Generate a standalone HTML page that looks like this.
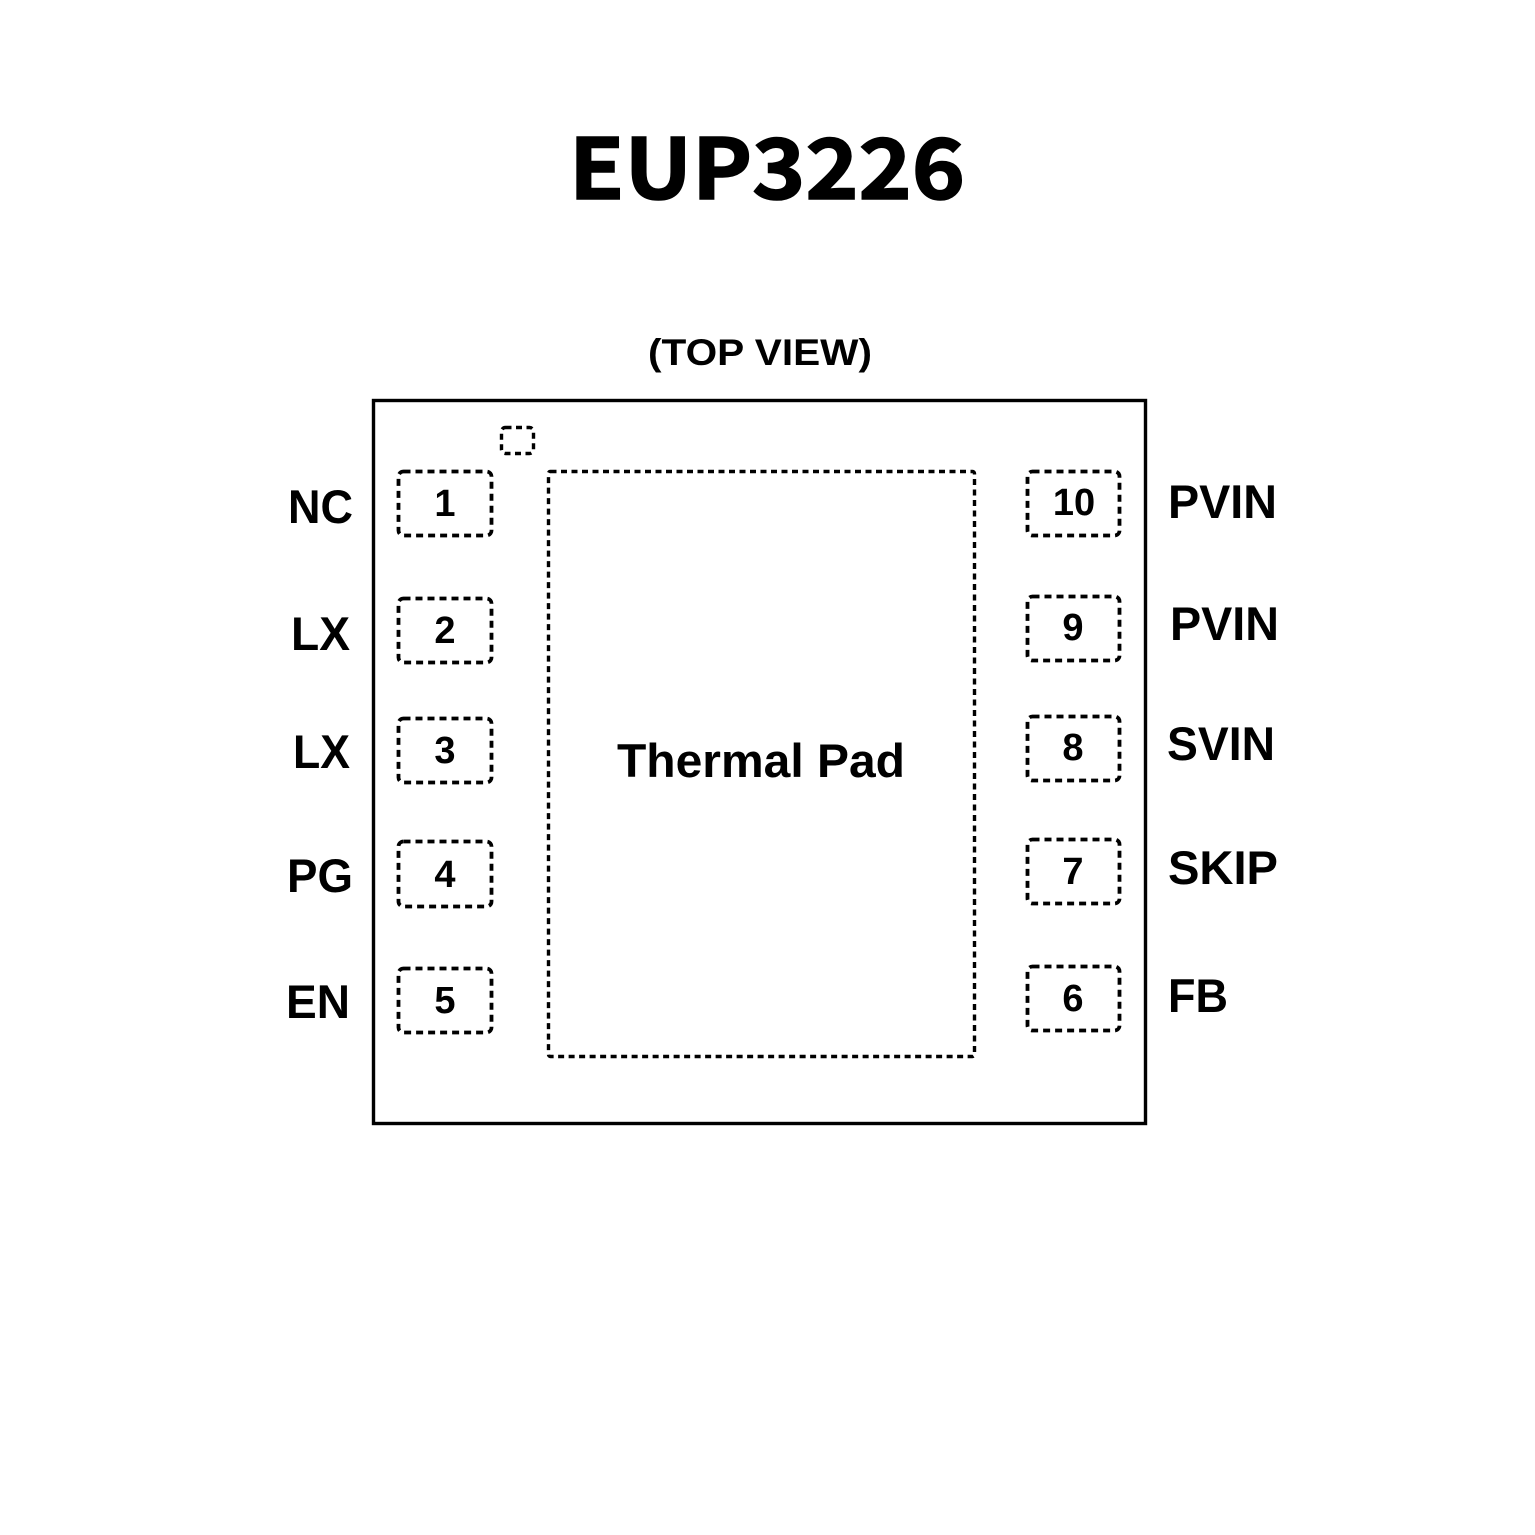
<!DOCTYPE html>
<html>
<head>
<meta charset="utf-8">
<style>
  html, body { margin: 0; padding: 0; background: #ffffff; }
  svg { display: block; }
  .lbl { font-family: "Liberation Sans", Arial, sans-serif; font-weight: bold; fill: #000; }
  .ttl { font-family: "Noto Sans CJK SC", "DejaVu Sans", "Liberation Sans", sans-serif; font-weight: 700; fill: #000; }
</style>
</head>
<body>
<svg width="1535" height="1535" viewBox="0 0 1535 1535" xmlns="http://www.w3.org/2000/svg">
  <rect x="0" y="0" width="1535" height="1535" fill="#ffffff"/>

  <!-- Title -->
  <text class="ttl" x="569" y="199" font-size="84" textLength="396" lengthAdjust="spacingAndGlyphs" stroke="#000" stroke-width="1.6">EUP3226</text>

  <!-- TOP VIEW -->
  <text class="lbl" x="648" y="365" font-size="37" textLength="224" lengthAdjust="spacingAndGlyphs">(TOP VIEW)</text>

  <!-- Outer package -->
  <rect x="373.5" y="400.5" width="772" height="723" fill="none" stroke="#000" stroke-width="3.4"/>

  <!-- Pin 1 marker -->
  <rect x="501.5" y="427.5" width="32" height="26" rx="4" fill="none" stroke="#000" stroke-width="3.4" stroke-dasharray="6 4.5"/>

  <!-- Thermal pad -->
  <rect x="548.5" y="471.5" width="426" height="585" rx="2" fill="none" stroke="#000" stroke-width="3.4" stroke-dasharray="6 4.5"/>
  <text class="lbl" x="617" y="777" font-size="47" textLength="288" lengthAdjust="spacingAndGlyphs">Thermal Pad</text>

  <!-- Left pads -->
  <g fill="none" stroke="#000" stroke-width="3.8" stroke-dasharray="7 5">
    <rect x="398.5" y="471.5" width="93" height="64" rx="5"/>
    <rect x="398.5" y="598.5" width="93" height="64" rx="5"/>
    <rect x="398.5" y="718.5" width="93" height="64" rx="5"/>
    <rect x="398.5" y="841.5" width="93" height="65" rx="5"/>
    <rect x="398.5" y="968.5" width="93" height="64" rx="5"/>
  </g>
  <!-- Right pads -->
  <g fill="none" stroke="#000" stroke-width="3.8" stroke-dasharray="7 5">
    <rect x="1027.5" y="471.5" width="92" height="64" rx="5"/>
    <rect x="1027.5" y="596.5" width="92" height="64" rx="5"/>
    <rect x="1027.5" y="716.5" width="92" height="64" rx="5"/>
    <rect x="1027.5" y="839.5" width="92" height="64" rx="5"/>
    <rect x="1027.5" y="966.5" width="92" height="64" rx="5"/>
  </g>

  <!-- Pin numbers -->
  <g class="lbl" font-size="38" text-anchor="middle">
    <text x="445" y="516">1</text>
    <text x="445" y="643">2</text>
    <text x="445" y="763">3</text>
    <text x="445" y="887">4</text>
    <text x="445" y="1013">5</text>
    <text x="1074" y="515">10</text>
    <text x="1073" y="640">9</text>
    <text x="1073" y="760">8</text>
    <text x="1073" y="884">7</text>
    <text x="1073" y="1011">6</text>
  </g>

  <!-- Left labels -->
  <g class="lbl" font-size="47">
    <text x="288" y="523" textLength="65" lengthAdjust="spacingAndGlyphs">NC</text>
    <text x="291" y="650" textLength="59" lengthAdjust="spacingAndGlyphs">LX</text>
    <text x="293" y="768" textLength="57" lengthAdjust="spacingAndGlyphs">LX</text>
    <text x="287" y="892" textLength="66" lengthAdjust="spacingAndGlyphs">PG</text>
    <text x="286" y="1018" textLength="64" lengthAdjust="spacingAndGlyphs">EN</text>
  </g>

  <!-- Right labels -->
  <g class="lbl" font-size="47">
    <text x="1168" y="518" textLength="109" lengthAdjust="spacingAndGlyphs">PVIN</text>
    <text x="1170" y="640" textLength="109" lengthAdjust="spacingAndGlyphs">PVIN</text>
    <text x="1167" y="760" textLength="108" lengthAdjust="spacingAndGlyphs">SVIN</text>
    <text x="1168" y="884" textLength="110" lengthAdjust="spacingAndGlyphs">SKIP</text>
    <text x="1168" y="1012" textLength="60" lengthAdjust="spacingAndGlyphs">FB</text>
  </g>
</svg>
</body>
</html>
